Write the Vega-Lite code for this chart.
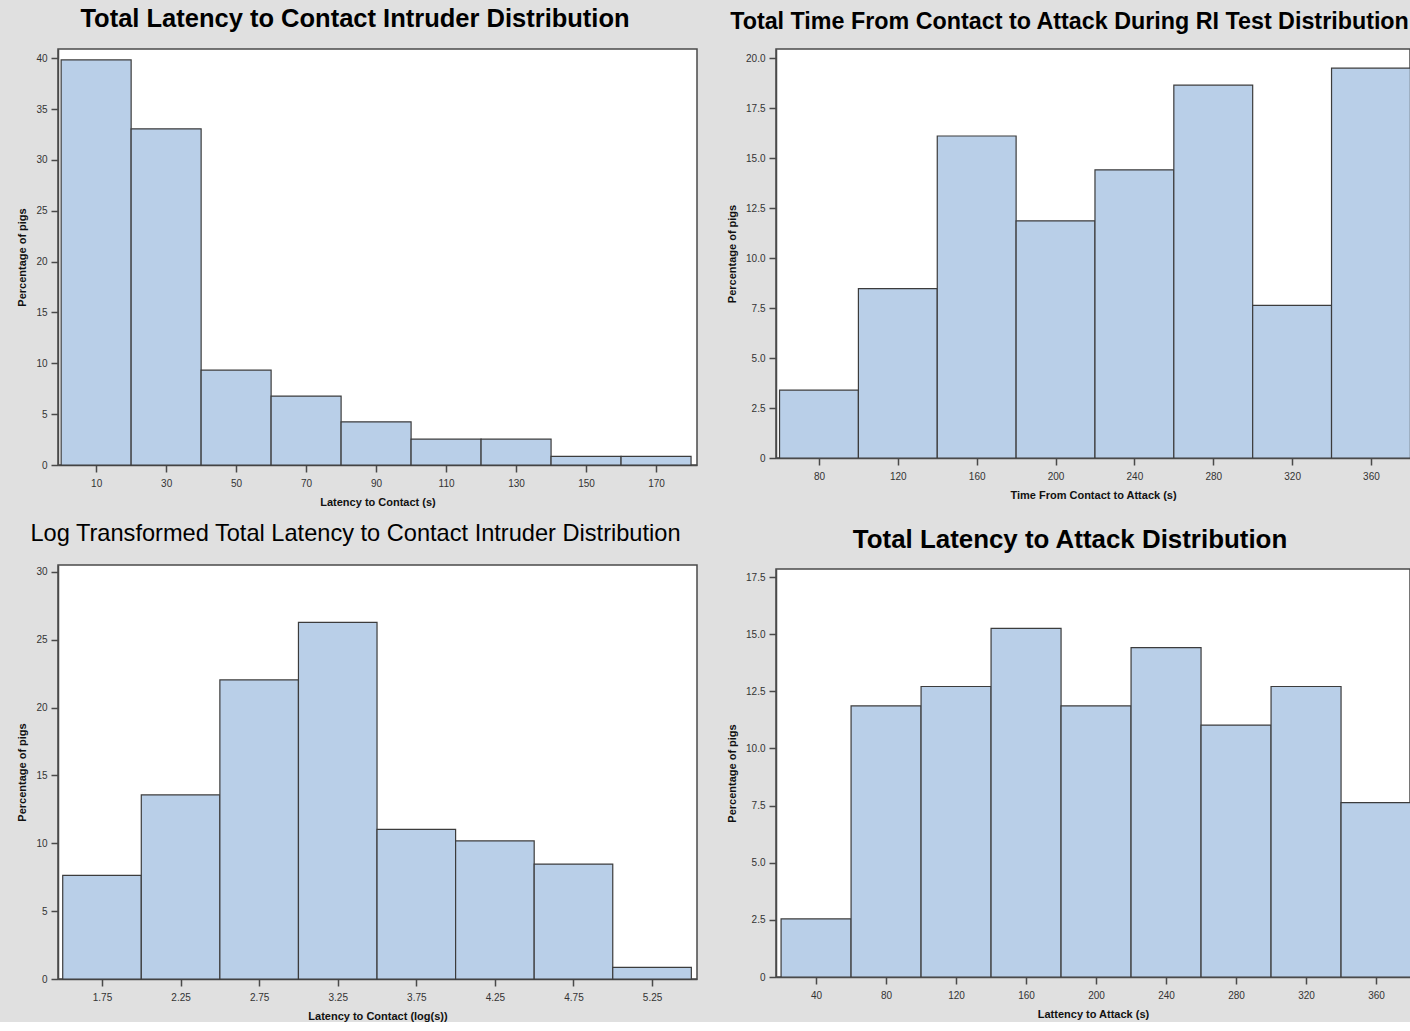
{
  "$schema": "https://vega.github.io/schema/vega-lite/v6.json",
  "background": "#e0e0e0",
  "padding": {"left": 16, "top": 5, "right": 0, "bottom": 0},
  "spacing": 27,
  "config": {
    "font": "Liberation Sans",
    "view": {"fill": "white", "stroke": "#4a4a4a", "strokeWidth": 1.5},
    "axis": {
      "grid": false,
      "domainColor": "#4a4a4a",
      "domainWidth": 1.5,
      "tickColor": "#4a4a4a",
      "tickWidth": 1.5,
      "tickSize": 7,
      "labelFontSize": 10,
      "labelColor": "#333333",
      "labelPadding": 4,
      "labelFlush": false,
      "titleFontSize": 11,
      "titleFontWeight": "bold",
      "titleColor": "#111111"
    },
    "axisX": {"titlePadding": 8, "labelPadding": 6},
    "axisY": {"titlePadding": 8},
    "title": {"anchor": "middle", "baseline": "alphabetic", "color": "#000000", "font": "Liberation Sans"},
    "bar": {"fill": "#b9cfe8", "stroke": "#3c3c3c", "strokeWidth": 1.2}
  },
  "datasets": {
    "contact": [
      {"bin_start": 0, "bin_end": 20, "pct": 39.83},
      {"bin_start": 20, "bin_end": 40, "pct": 33.05},
      {"bin_start": 40, "bin_end": 60, "pct": 9.32},
      {"bin_start": 60, "bin_end": 80, "pct": 6.78},
      {"bin_start": 80, "bin_end": 100, "pct": 4.24},
      {"bin_start": 100, "bin_end": 120, "pct": 2.54},
      {"bin_start": 120, "bin_end": 140, "pct": 2.54},
      {"bin_start": 140, "bin_end": 160, "pct": 0.85},
      {"bin_start": 160, "bin_end": 180, "pct": 0.85}
    ],
    "logcontact": [
      {"bin_start": 1.5, "bin_end": 2.0, "pct": 7.63},
      {"bin_start": 2.0, "bin_end": 2.5, "pct": 13.56},
      {"bin_start": 2.5, "bin_end": 3.0, "pct": 22.03},
      {"bin_start": 3.0, "bin_end": 3.5, "pct": 26.27},
      {"bin_start": 3.5, "bin_end": 4.0, "pct": 11.02},
      {"bin_start": 4.0, "bin_end": 4.5, "pct": 10.17},
      {"bin_start": 4.5, "bin_end": 5.0, "pct": 8.47},
      {"bin_start": 5.0, "bin_end": 5.5, "pct": 0.85}
    ],
    "contact2attack": [
      {"bin_start": 60, "bin_end": 100, "pct": 3.39},
      {"bin_start": 100, "bin_end": 140, "pct": 8.47},
      {"bin_start": 140, "bin_end": 180, "pct": 16.10},
      {"bin_start": 180, "bin_end": 220, "pct": 11.86},
      {"bin_start": 220, "bin_end": 260, "pct": 14.41},
      {"bin_start": 260, "bin_end": 300, "pct": 18.64},
      {"bin_start": 300, "bin_end": 340, "pct": 7.63},
      {"bin_start": 340, "bin_end": 380, "pct": 19.49}
    ],
    "attack": [
      {"bin_start": 20, "bin_end": 60, "pct": 2.54},
      {"bin_start": 60, "bin_end": 100, "pct": 11.86},
      {"bin_start": 100, "bin_end": 140, "pct": 12.71},
      {"bin_start": 140, "bin_end": 180, "pct": 15.25},
      {"bin_start": 180, "bin_end": 220, "pct": 11.86},
      {"bin_start": 220, "bin_end": 260, "pct": 14.41},
      {"bin_start": 260, "bin_end": 300, "pct": 11.02},
      {"bin_start": 300, "bin_end": 340, "pct": 12.71},
      {"bin_start": 340, "bin_end": 380, "pct": 7.63}
    ]
  },
  "hconcat": [
    {
      "spacing": 13,
      "vconcat": [
        {
          "title": {"text": "Total Latency to Contact Intruder Distribution", "fontSize": 25.5, "fontWeight": "bold", "offset": 17, "dx": -22.5},
          "width": 639,
          "height": 416,
          "data": {"name": "contact"},
          "mark": {"type": "bar"},
          "encoding": {
            "x": {"field": "bin_start", "type": "quantitative", "scale": {"domain": [-0.9, 181.7], "nice": false, "zero": false},
                  "axis": {"title": "Latency to Contact (s)", "values": [10, 30, 50, 70, 90, 110, 130, 150, 170]}},
            "x2": {"field": "bin_end"},
            "y": {"field": "pct", "type": "quantitative", "scale": {"domain": [0, 40.9], "nice": false},
                  "axis": {"title": "Percentage of pigs", "values": [0, 5, 10, 15, 20, 25, 30, 35, 40]}},
            "y2": {"datum": 0}
          }
        },
        {
          "title": {"text": "Log Transformed Total Latency to Contact Intruder Distribution", "fontSize": 23.6, "fontWeight": "normal", "offset": 19, "dx": -22},
          "width": 639,
          "height": 414,
          "data": {"name": "logcontact"},
          "mark": {"type": "bar"},
          "encoding": {
            "x": {"field": "bin_start", "type": "quantitative", "scale": {"domain": [1.47, 5.536], "nice": false, "zero": false},
                  "axis": {"title": "Latency to Contact (log(s))", "values": [1.75, 2.25, 2.75, 3.25, 3.75, 4.25, 4.75, 5.25], "format": ".2f"}},
            "x2": {"field": "bin_end"},
            "y": {"field": "pct", "type": "quantitative", "scale": {"domain": [0, 30.5], "nice": false},
                  "axis": {"title": "Percentage of pigs", "values": [0, 5, 10, 15, 20, 25, 30]}},
            "y2": {"datum": 0}
          }
        }
      ]
    },
    {
      "spacing": 25,
      "vconcat": [
        {
          "title": {"text": "Total Time From Contact to Attack During RI Test Distribution", "fontSize": 23.3, "fontWeight": "bold", "offset": 15, "dx": -23.5},
          "width": 634,
          "height": 409,
          "data": {"name": "contact2attack"},
          "mark": {"type": "bar", "clip": true},
          "encoding": {
            "x": {"field": "bin_start", "type": "quantitative", "scale": {"domain": [58.2, 379.8], "nice": false, "zero": false},
                  "axis": {"title": "Time From Contact to Attack (s)", "values": [80, 120, 160, 200, 240, 280, 320, 360]}},
            "x2": {"field": "bin_end"},
            "y": {"field": "pct", "type": "quantitative", "scale": {"domain": [0, 20.45], "nice": false},
                  "axis": {"title": "Percentage of pigs", "values": [0, 2.5, 5, 7.5, 10, 12.5, 15, 17.5, 20],
                           "labelExpr": "datum.value == 0 ? '0' : format(datum.value, '.1f')"}},
            "y2": {"datum": 0}
          }
        },
        {
          "title": {"text": "Total Latency to Attack Distribution", "fontSize": 25.9, "fontWeight": "bold", "offset": 15, "dx": -23},
          "width": 634,
          "height": 408,
          "data": {"name": "attack"},
          "mark": {"type": "bar", "clip": true},
          "encoding": {
            "x": {"field": "bin_start", "type": "quantitative", "scale": {"domain": [17.1, 379.4], "nice": false, "zero": false},
                  "axis": {"title": "Lattency to Attack (s)", "values": [40, 80, 120, 160, 200, 240, 280, 320, 360]}},
            "x2": {"field": "bin_end"},
            "y": {"field": "pct", "type": "quantitative", "scale": {"domain": [0, 17.85], "nice": false},
                  "axis": {"title": "Percentage of pigs", "values": [0, 2.5, 5, 7.5, 10, 12.5, 15, 17.5],
                           "labelExpr": "datum.value == 0 ? '0' : format(datum.value, '.1f')"}},
            "y2": {"datum": 0}
          }
        }
      ]
    }
  ]
}
